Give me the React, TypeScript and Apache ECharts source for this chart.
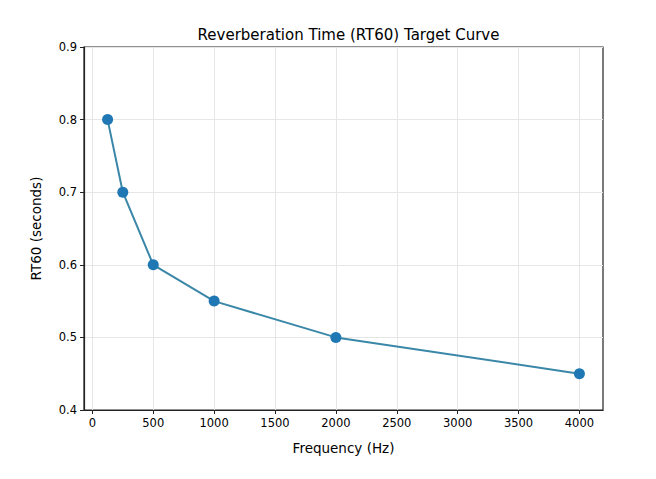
import React, { useEffect, useRef } from "react";
import * as echarts from "echarts";

const frequencies = [125, 250, 500, 1000, 2000, 4000];
const rt60 = [0.8, 0.7, 0.6, 0.55, 0.5, 0.45];
const xTicks = [0, 500, 1000, 1500, 2000, 2500, 3000, 3500, 4000];

export default function App() {
  const ref = useRef<HTMLDivElement>(null);
  useEffect(() => {
    document.body.style.margin = "0";
    const chart = echarts.init(ref.current!, null, { renderer: "svg" });
    const font = "DejaVu Sans";
    chart.setOption({
      animation: false,
      backgroundColor: "#fff",
      title: {
        text: "Reverberation Time (RT60) Target Curve",
        left: 343.5,
        textAlign: "center",
        top: 22,
        textStyle: { fontFamily: font, fontSize: 15, fontWeight: "normal", color: "#000" },
      },
      grid: {
        left: 84,
        right: 53,
        top: 47,
        bottom: 69,
        show: true,
        borderColor: "#222",
        borderWidth: 1.2,
      },
      xAxis: {
        type: "value",
        min: -68.75,
        max: 4193.75,
        name: "Frequency (Hz)",
        nameLocation: "middle",
        nameGap: 31,
        nameTextStyle: { fontFamily: font, fontSize: 13.5, color: "#000" },
        axisLine: { show: true, onZero: false, lineStyle: { color: "#222", width: 1.2 } },
        axisTick: { show: true, length: 4, customValues: xTicks, lineStyle: { color: "#222" } },
        axisLabel: {
          customValues: xTicks,
          fontFamily: font,
          fontSize: 11.5,
          color: "#000",
          margin: 7,
          formatter: (v: number) => String(v),
        },
        splitLine: { show: true, lineStyle: { color: "#e6e6e6", width: 1 } },
      },
      yAxis: {
        type: "value",
        min: 0.4,
        max: 0.9,
        interval: 0.1,
        name: "RT60 (seconds)",
        nameLocation: "middle",
        nameGap: 41,
        nameTextStyle: { fontFamily: font, fontSize: 13.5, color: "#000" },
        axisLine: { show: true, onZero: false, lineStyle: { color: "#222", width: 1.2 } },
        axisTick: { show: true, length: 4, lineStyle: { color: "#222" } },
        axisLabel: {
          fontFamily: font,
          fontSize: 11.5,
          color: "#000",
          margin: 7,
          formatter: (v: number) => v.toFixed(1),
        },
        splitLine: { show: true, lineStyle: { color: "#e6e6e6", width: 1 } },
      },
      series: [
        {
          type: "line",
          data: frequencies.map((f, i) => [f, rt60[i]]),
          symbol: "circle",
          symbolSize: 11,
          itemStyle: { color: "#1f77b4" },
          lineStyle: { color: "#3a87a8", width: 2 },
        },
      ],
    });
    return () => chart.dispose();
  }, []);
  return <div ref={ref} style={{ width: 656, height: 479 }} />;
}
